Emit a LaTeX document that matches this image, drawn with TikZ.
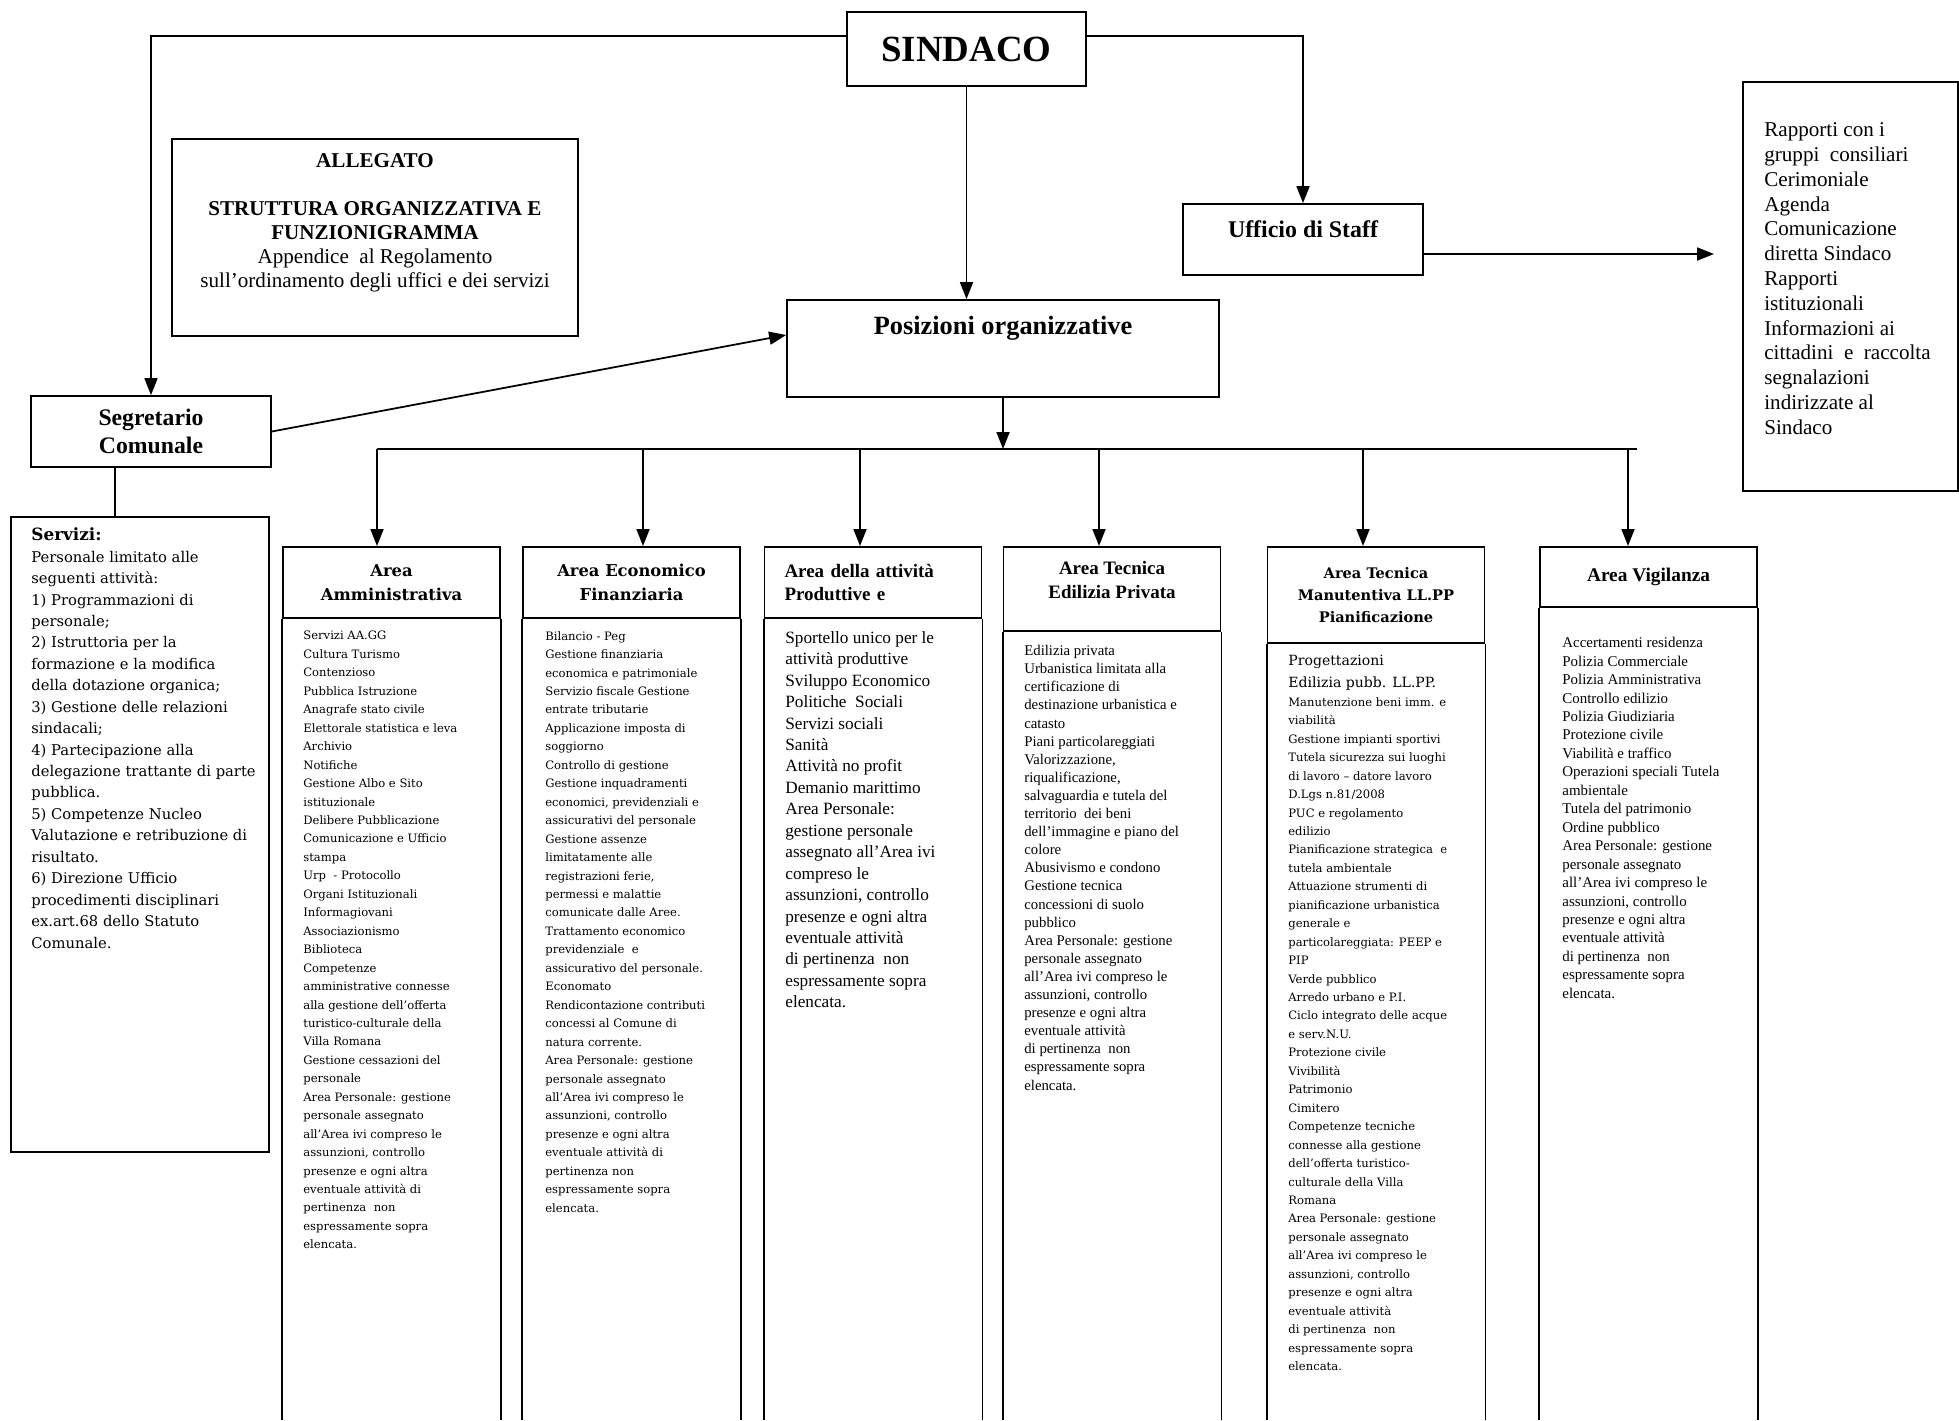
\documentclass[tikz,border=0pt]{standalone}
\usepackage{fontspec}
\setmainfont{Liberation Serif}
\newfontfamily\wideserif{DejaVu Serif}
\usetikzlibrary{arrows.meta,positioning}

\begin{document}
\begin{tikzpicture}[
  box/.style={draw,line width=1pt},
  ln/.style={line width=1pt},
  arr/.style={line width=1pt,-{Triangle[length=0.34cm,width=0.26cm]}},
  hdr/.style={box,anchor=north,minimum width=4.34cm,align=center,
              font=\bfseries\fontsize{10.8}{13.5}\selectfont},
  hdrw/.style={hdr,font=\wideserif\bfseries\fontsize{9.3}{13.4}\selectfont},
  body/.style={anchor=north west,align=left,inner sep=0pt,
               font=\fontsize{8.4}{10.3}\selectfont},
  bodyw/.style={body,font=\wideserif\fontsize{6.6}{10.5}\selectfont}
]
  \useasboundingbox (0,0) rectangle (39.18,-28.4);
  \coordinate (bot) at (0,-28.4);

  % vertice e staff
  \node[box,minimum width=4.78cm,minimum height=1.48cm,
        font=\bfseries\fontsize{21}{24}\selectfont] (sind) at (19.33,-0.98) {SINDACO};
  \node[box,minimum width=4.8cm,minimum height=1.42cm] (staff) at (26.06,-4.79) {};
  \node[font=\bfseries\fontsize{13.6}{16}\selectfont] (stafftxt)
    at ([yshift=-0.52cm]staff.north) {Ufficio di Staff};
  \node[box,minimum width=4.3cm,minimum height=8.18cm] (rapp) at (37.01,-5.73) {};
  \node[anchor=north west,align=left,inner sep=0pt,font=\fontsize{12}{14.1}\selectfont]
    (rapptxt) at (35.28,-2.45) {Rapporti con i\\gruppi\ \ consiliari\\Cerimoniale\\Agenda\\
      Comunicazione\\diretta Sindaco\\Rapporti\\istituzionali\\Informazioni ai\\
      cittadini\ \ e\ \ raccolta\\segnalazioni\\indirizzate al\\Sindaco};
  \coordinate (rappin) at (34.28,-5.08);

  % allegato
  \node[box,minimum width=8.12cm,minimum height=3.94cm] (alleg) at (7.5,-4.75) {};
  \node[anchor=north,align=center,inner sep=0pt,font=\fontsize{12}{13.7}\selectfont]
    (allegtxt) at ([yshift=-0.3cm]alleg.north)
    {\textbf{ALLEGATO}\\[13.7pt]\textbf{STRUTTURA ORGANIZZATIVA E}\\\textbf{FUNZIONIGRAMMA}\\
     Appendice\ \ al Regolamento\\sull’ordinamento degli uffici e dei servizi};

  % posizioni e segretario
  \node[box,minimum width=8.64cm,minimum height=1.94cm] (pos) at (20.06,-6.97) {};
  \node[font=\bfseries\fontsize{15}{18}\selectfont] (postxt)
    at ([yshift=-0.58cm]pos.north) {Posizioni organizzative};
  \node[box,minimum width=4.8cm,minimum height=1.42cm,align=center,
        font=\bfseries\fontsize{13.5}{15.6}\selectfont] (segr) at (3.02,-8.63) {Segretario\\Comunale};
  \node[box,minimum width=5.16cm,minimum height=12.7cm] (serv) at (2.8,-16.69) {};
  \node[anchor=north west,align=left,inner sep=0pt,font=\wideserif\fontsize{8.4}{12.2}\selectfont]
    (servtxt) at (0.62,-10.55)
    {{\bfseries\fontsize{9.6}{12.2}\selectfont Servizi:}\\
     Personale limitato alle\\seguenti attività:\\1) Programmazioni di\\personale;\\
     2) Istruttoria per la\\formazione e la modifica\\della dotazione organica;\\
     3) Gestione delle relazioni\\sindacali;\\4) Partecipazione alla\\
     delegazione trattante di parte\\pubblica.\\5) Competenze Nucleo\\
     Valutazione e retribuzione di\\risultato.\\6) Direzione Ufficio\\
     procedimenti disciplinari\\ex.art.68 dello Statuto\\Comunale.};

  \draw[arr] ([yshift=0.26cm]sind.west) -| (segr.north);
  \draw[arr] ([yshift=0.26cm]sind.east) -| (staff.north);
  \draw[arr] (sind.south) -- (sind.south |- pos.north);
  \draw[arr] (staff.east |- rappin) -- (rappin);
  \draw[arr] (segr.east) -- ([yshift=0.27cm]pos.west);
  \draw[ln] ([xshift=-0.72cm]segr.south) -- ([xshift=-0.72cm]segr.south |- serv.north);

  % aree
  \coordinate (barL) at (7.54,-8.98);
  \coordinate (barR) at (32.74,-8.98);
  \draw[arr] (pos.south) -- (pos.south |- barL);
  \draw[ln] (barL) -- (barR);

  \node[hdrw,minimum height=1.42cm] (amm) at (7.83,-10.92) {Area\\Amministrativa};
  \node[hdrw,minimum height=1.42cm] (eco) at (12.63,-10.92) {Area Economico\\Finanziaria};
  \node[hdr,minimum height=1.42cm,align=left,text width=3.54cm,inner xsep=0.4cm]
    (prod) at (17.46,-10.92) {Area della attività\\Produttive e};
  \node[hdr,minimum height=1.68cm,text depth=0.36cm] (edil) at (22.24,-10.92) {Area Tecnica\\Edilizia Privata};
  \node[hdrw,minimum height=1.92cm,font=\wideserif\bfseries\fontsize{8.3}{12.5}\selectfont]
    (manu) at (27.52,-10.92) {Area Tecnica\\Manutentiva LL.PP\\Pianificazione};
  \node[hdr,minimum height=1.2cm,font=\bfseries\fontsize{11}{13}\selectfont]
    (vigi) at (32.97,-10.92) {Area Vigilanza};

  \draw[arr] ([xshift=-0.29cm]amm.north |- barL) -- ([xshift=-0.29cm]amm.north);
  \draw[arr] ([xshift=0.23cm]eco.north |- barL) -- ([xshift=0.23cm]eco.north);
  \draw[arr] ([xshift=-0.26cm]prod.north |- barL) -- ([xshift=-0.26cm]prod.north);
  \draw[arr] ([xshift=-0.26cm]edil.north |- barL) -- ([xshift=-0.26cm]edil.north);
  \draw[arr] ([xshift=-0.26cm]manu.north |- barL) -- ([xshift=-0.26cm]manu.north);
  \draw[arr] ([xshift=-0.41cm]vigi.north |- barL) -- ([xshift=-0.41cm]vigi.north);

  \draw[ln] (amm.south west) -- (amm.south west |- bot);
  \draw[ln] (amm.south east) -- (amm.south east |- bot);
  \draw[ln] (eco.south west) -- (eco.south west |- bot);
  \draw[ln] (eco.south east) -- (eco.south east |- bot);
  \draw[ln] (prod.south west) -- (prod.south west |- bot);
  \draw[ln] (prod.south east) -- (prod.south east |- bot);
  \draw[ln] (edil.south west) -- (edil.south west |- bot);
  \draw[ln] (edil.south east) -- (edil.south east |- bot);
  \draw[ln] (manu.south west) -- (manu.south west |- bot);
  \draw[ln] (manu.south east) -- (manu.south east |- bot);
  \draw[ln] (vigi.south west) -- (vigi.south west |- bot);
  \draw[ln] (vigi.south east) -- (vigi.south east |- bot);

  % testi delle aree
  \node[bodyw] (ammtxt) at (6.06,-12.62)
    {Servizi AA.GG\\Cultura Turismo\\Contenzioso\\Pubblica Istruzione\\
     Anagrafe stato civile\\Elettorale statistica e leva\\Archivio\\Notifiche\\
     Gestione Albo e Sito\\istituzionale\\Delibere Pubblicazione\\
     Comunicazione e Ufficio\\stampa\\Urp\ \ - Protocollo\\Organi Istituzionali\\
     Informagiovani\\Associazionismo\\Biblioteca\\Competenze\\
     amministrative connesse\\alla gestione dell’offerta\\turistico-culturale della\\
     Villa Romana\\Gestione cessazioni del\\personale\\Area Personale: gestione\\
     personale assegnato\\all’Area ivi compreso le\\assunzioni, controllo\\
     presenze e ogni altra\\eventuale attività di\\pertinenza\ \ non\\
     espressamente sopra\\elencata.};
  \node[bodyw] (ecotxt) at (10.9,-12.62)
    {Bilancio - Peg\\Gestione finanziaria\\economica e patrimoniale\\
     Servizio fiscale Gestione\\entrate tributarie\\Applicazione imposta di\\
     soggiorno\\Controllo di gestione\\Gestione inquadramenti\\
     economici, previdenziali e\\assicurativi del personale\\Gestione assenze\\
     limitatamente alle\\registrazioni ferie,\\permessi e malattie\\
     comunicate dalle Aree.\\Trattamento economico\\previdenziale\ \ e\\
     assicurativo del personale.\\Economato\\Rendicontazione contributi\\
     concessi al Comune di\\natura corrente.\\Area Personale: gestione\\
     personale assegnato\\all’Area ivi compreso le\\assunzioni, controllo\\
     presenze e ogni altra\\eventuale attività di\\pertinenza non\\
     espressamente sopra\\elencata.};
  \node[body,font=\fontsize{9.8}{12.2}\selectfont] (prodtxt) at (15.7,-12.62)
    {Sportello unico per le\\attività produttive\\Sviluppo Economico\\
     Politiche\ \ Sociali\\Servizi sociali\\Sanità\\Attività no profit\\
     Demanio marittimo\\Area Personale:\\gestione personale\\
     assegnato all’Area ivi\\compreso le\\assunzioni, controllo\\
     presenze e ogni altra\\eventuale attività\\di pertinenza\ \ non\\
     espressamente sopra\\elencata.};
  \node[body] (ediltxt) at (20.48,-12.9)
    {Edilizia privata\\Urbanistica limitata alla\\certificazione di\\
     destinazione urbanistica e\\catasto\\Piani particolareggiati\\
     Valorizzazione,\\riqualificazione,\\salvaguardia e tutela del\\
     territorio\ \ dei beni\\dell’immagine e piano del\\colore\\
     Abusivismo e condono\\Gestione tecnica\\concessioni di suolo\\pubblico\\
     Area Personale: gestione\\personale assegnato\\all’Area ivi compreso le\\
     assunzioni, controllo\\presenze e ogni altra\\eventuale attività\\
     di pertinenza\ \ non\\espressamente sopra\\elencata.};
  \node[body,font=\wideserif\fontsize{8}{12.6}\selectfont] (manutxt) at (25.76,-13.1)
    {Progettazioni\\Edilizia pubb. LL.PP.};
  \node[bodyw] (manutxt2) at ([yshift=-0.12cm]manutxt.south west)
    {Manutenzione beni imm. e\\viabilità\\Gestione impianti sportivi\\
     Tutela sicurezza sui luoghi\\di lavoro – datore lavoro\\D.Lgs n.81/2008\\
     PUC e regolamento\\edilizio\\Pianificazione strategica\ \ e\\
     tutela ambientale\\Attuazione strumenti di\\pianificazione urbanistica\\
     generale e\\particolareggiata: PEEP e\\PIP\\Verde pubblico\\
     Arredo urbano e P.I.\\Ciclo integrato delle acque\\e serv.N.U.\\
     Protezione civile\\Vivibilità\\Patrimonio\\Cimitero\\Competenze tecniche\\
     connesse alla gestione\\dell’offerta turistico-\\culturale della Villa\\
     Romana\\Area Personale: gestione\\personale assegnato\\
     all’Area ivi compreso le\\assunzioni, controllo\\presenze e ogni altra\\
     eventuale attività\\di pertinenza\ \ non\\espressamente sopra\\elencata.};
  \node[body,font=\fontsize{8.5}{10.5}\selectfont] (vigitxt) at (31.24,-12.74)
    {Accertamenti residenza\\Polizia Commerciale\\Polizia Amministrativa\\
     Controllo edilizio\\Polizia Giudiziaria\\Protezione civile\\
     Viabilità e traffico\\Operazioni speciali Tutela\\ambientale\\
     Tutela del patrimonio\\Ordine pubblico\\Area Personale: gestione\\
     personale assegnato\\all’Area ivi compreso le\\assunzioni, controllo\\
     presenze e ogni altra\\eventuale attività\\di pertinenza\ \ non\\
     espressamente sopra\\elencata.};
\end{tikzpicture}
\end{document}
